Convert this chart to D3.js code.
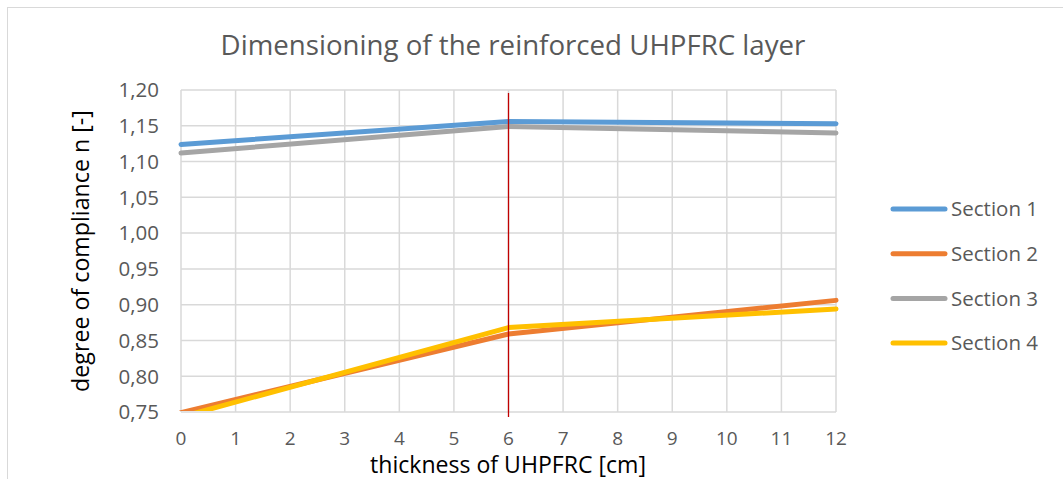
<!DOCTYPE html>
<html>
<head>
<meta charset="utf-8">
<script src="https://cdn.jsdelivr.net/npm/d3@7"></script>
<style>
  body { margin: 0; background: #fff; }
  svg { display: block; font-family: "Open Sans", "Noto Sans", sans-serif; }
</style>
</head>
<body>
<div id="chart"></div>
<script>
// ----------------------------------------------
// Data
// ----------------------------------------------
const thickness = [0, 6, 12];
const section1 = [1.124, 1.156, 1.153];
const section2 = [0.749, 0.859, 0.906];
const section3 = [1.112, 1.149, 1.140];
const section4 = [0.743, 0.868, 0.894];
const seriesNames = ['Section 1', 'Section 2', 'Section 3', 'Section 4'];
const seriesColors = ['#5b9bd5', '#ed7d31', '#a5a5a5', '#ffc000'];
const xTicks = d3.range(0, 13);
const yTicks = [0.75, 0.80, 0.85, 0.90, 0.95, 1.00, 1.05, 1.10, 1.15, 1.20];
const markerX = 6;

const width = 1063, height = 479;
const plot = { left: 181, right: 836, top: 90, bottom: 412 };

// helper: shrink/grow font so the text hits a wanted width
function fitText(sel, target) {
  const node = sel.node();
  const fs = parseFloat(sel.attr('font-size'));
  const w = node.getComputedTextLength();
  if (w > 0) sel.attr('font-size', (fs * target / w).toFixed(2));
}

const svg = d3.select('#chart').append('svg')
  .attr('width', width)
  .attr('height', height);

// chart border (only top and left visible in the crop)
svg.append('rect')
  .attr('x', 7.5).attr('y', 7.5)
  .attr('width', width + 20).attr('height', height + 20)
  .attr('fill', 'none').attr('stroke', '#d9d9d9');

const x = d3.scaleLinear().domain([0, 12]).range([plot.left, plot.right]);
const y = d3.scaleLinear().domain([0.75, 1.20]).range([plot.bottom, plot.top]);

// gridlines
const grid = svg.append('g').attr('stroke', '#d9d9d9').attr('stroke-width', 1.5);
grid.selectAll('.h').data(yTicks).join('line')
  .attr('x1', plot.left).attr('x2', plot.right)
  .attr('y1', d => y(d)).attr('y2', d => y(d));
grid.selectAll('.v').data(xTicks).join('line')
  .attr('y1', plot.top).attr('y2', plot.bottom)
  .attr('x1', d => x(d)).attr('x2', d => x(d));

// tick labels
const fmt = d => d3.format('.2f')(d).replace('.', ',');
svg.append('g').selectAll('text').data(yTicks).join('text')
  .attr('x', plot.left - 22)
  .attr('y', d => y(d))
  .attr('dy', '0.36em')
  .attr('text-anchor', 'end')
  .attr('font-size', 20.5)
  .attr('fill', '#595959')
  .text(fmt);

svg.append('g').selectAll('text').data(xTicks).join('text')
  .attr('x', d => x(d))
  .attr('y', 445)
  .attr('text-anchor', 'middle')
  .attr('font-size', 19)
  .attr('fill', '#595959')
  .text(d => d);

// series lines, clipped to plot area
svg.append('clipPath').attr('id', 'clip')
  .append('rect')
  .attr('x', plot.left - 4).attr('y', plot.top - 4)
  .attr('width', plot.right - plot.left + 8)
  .attr('height', plot.bottom - plot.top + 3);

const line = d3.line().x((d, i) => x(thickness[i])).y(d => y(d));
const allSeries = [section1, section2, section3, section4];

svg.append('g').attr('clip-path', 'url(#clip)')
  .selectAll('path').data(allSeries).join('path')
  .attr('d', line)
  .attr('fill', 'none')
  .attr('stroke', (d, i) => seriesColors[i])
  .attr('stroke-width', 5)
  .attr('stroke-linecap', 'round')
  .attr('stroke-linejoin', 'round');

// red marker line at 6 cm
svg.append('line')
  .attr('x1', x(markerX)).attr('x2', x(markerX))
  .attr('y1', 93).attr('y2', 417)
  .attr('stroke', '#c00000')
  .attr('stroke-width', 1.3);

// title and axis titles
const title = svg.append('text')
  .attr('x', 513).attr('y', 55)
  .attr('text-anchor', 'middle')
  .attr('font-size', 24)
  .attr('fill', '#595959')
  .text('Dimensioning of the reinforced UHPFRC layer');
fitText(title, 585);

const xTitle = svg.append('text')
  .attr('x', 508).attr('y', 473)
  .attr('text-anchor', 'middle')
  .attr('font-size', 20)
  .attr('fill', '#000')
  .text('thickness of UHPFRC [cm]');
fitText(xTitle, 276);

const yTitle = svg.append('text')
  .attr('transform', 'translate(89,251) rotate(-90)')
  .attr('text-anchor', 'middle')
  .attr('font-size', 20)
  .attr('fill', '#000')
  .text('degree of compliance n [-]');
fitText(yTitle, 282);

// legend
const legend = svg.append('g').selectAll('g').data(seriesNames).join('g')
  .attr('transform', (d, i) => `translate(891,${209 + i * 44.7})`);
legend.append('line')
  .attr('x1', 2).attr('x2', 54)
  .attr('stroke', (d, i) => seriesColors[i])
  .attr('stroke-width', 5)
  .attr('stroke-linecap', 'round');
legend.append('text')
  .attr('x', 60).attr('dy', '0.35em')
  .attr('font-size', 17)
  .attr('fill', '#595959')
  .text(d => d)
  .each(function () { fitText(d3.select(this), 87); });
</script>
</body>
</html>
